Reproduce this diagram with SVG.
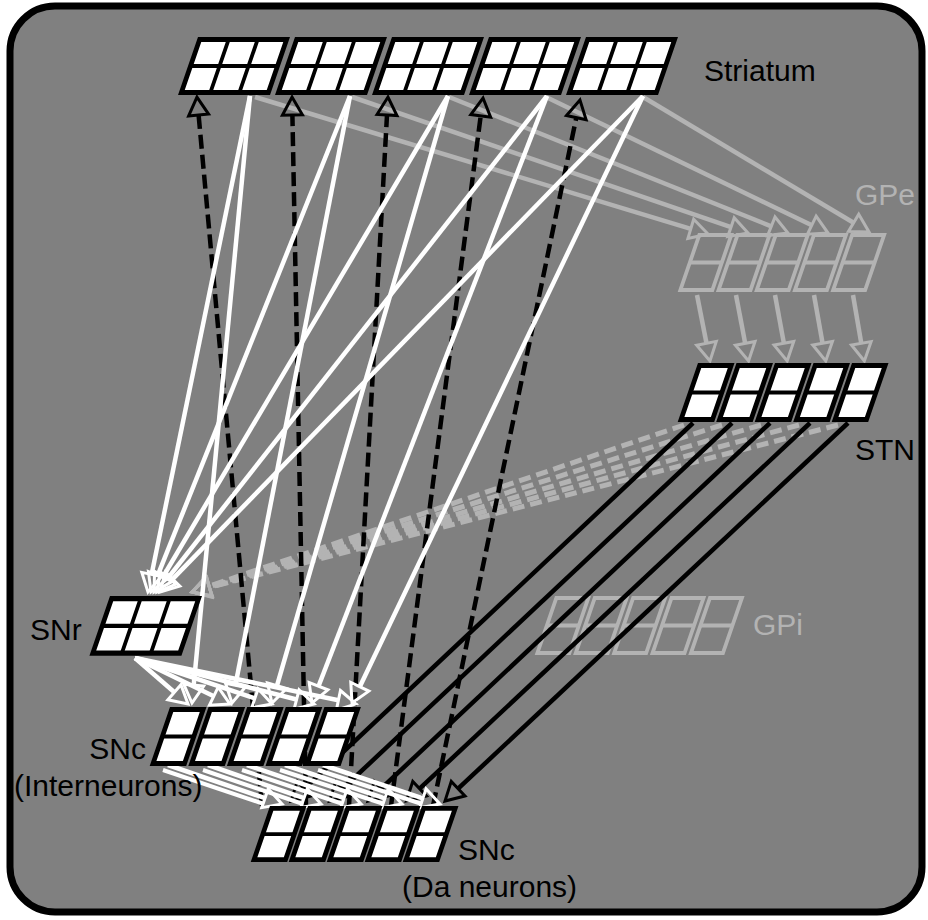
<svg xmlns="http://www.w3.org/2000/svg" xmlns:xlink="http://www.w3.org/1999/xlink" width="928" height="920" viewBox="0 0 928 920">
  <style>
    .lbl { font-family: "Liberation Sans", Arial, sans-serif; font-size: 30px; fill: #000; }
    .lblg { font-family: "Liberation Sans", Arial, sans-serif; font-size: 30px; fill: #b3b3b3; }
    .w { stroke: #fff; stroke-width: 4.5; fill: none; marker-end: url(#hw); }
    .w2 { stroke: #fff; stroke-width: 4; fill: none; }
    .k { stroke: #000; stroke-width: 4.5; fill: none; marker-end: url(#hk); }
    .kd { stroke: #000; stroke-width: 4.5; fill: none; stroke-dasharray: 14 6; marker-end: url(#hk); }
    .g { stroke: #b3b3b3; stroke-width: 4.5; fill: none; marker-end: url(#hg); }
    .gd { stroke: #b3b3b3; stroke-width: 5; fill: none; stroke-dasharray: 12 6; marker-end: url(#hg); }
    .cellw { fill: #fff; stroke: #000; stroke-width: 5; }
    .grid { stroke: #000; stroke-width: 4; fill: none; }
    .cellg { fill: none; stroke: #b3b3b3; stroke-width: 4; }
  </style>
  <defs>
    <!-- open triangular arrowheads; the line ends at the base, the tip lies 18px ahead -->
    <marker id="hw" markerUnits="userSpaceOnUse" viewBox="-4 -15 30 30" markerWidth="30" markerHeight="30" refX="0" refY="0" orient="auto" overflow="visible">
      <path d="M0,-10L18,0L0,10Z" fill="none" stroke="#fff" stroke-width="3"/>
    </marker>
    <marker id="hk" markerUnits="userSpaceOnUse" viewBox="-4 -15 30 30" markerWidth="30" markerHeight="30" refX="0" refY="0" orient="auto" overflow="visible">
      <path d="M0,-10L18,0L0,10Z" fill="none" stroke="#000" stroke-width="3"/>
    </marker>
    <marker id="hg" markerUnits="userSpaceOnUse" viewBox="-4 -15 30 30" markerWidth="30" markerHeight="30" refX="0" refY="0" orient="auto" overflow="visible">
      <path d="M0,-10L18,0L0,10Z" fill="none" stroke="#b3b3b3" stroke-width="3"/>
    </marker>
    <!-- unit-group blocks, drawn upright from their outer top-left corner and sheared into place -->
    <g id="b32">
      <rect x="2.5" y="2.5" width="87" height="53" class="cellw"/>
      <path class="grid" d="M31.5,2.5V55.5M60.5,2.5V55.5M2.5,29H89.5"/>
    </g>
    <g id="b12">
      <rect x="2.5" y="2.5" width="31.5" height="54" class="cellw"/>
      <path class="grid" d="M2.5,29.5H34"/>
    </g>
    <g id="g12">
      <rect x="2" y="2" width="32" height="55" class="cellg"/>
      <path class="cellg" d="M2,29.5H34"/>
    </g>
  </defs>

  <rect x="10" y="6" width="912" height="906" rx="45" fill="#808080" stroke="#000" stroke-width="7"/>

  <g id="GPi">
    <use href="#g12" transform="translate(555,596) skewX(-19)"/>
    <use href="#g12" transform="translate(593.4,596) skewX(-19)"/>
    <use href="#g12" transform="translate(631.8,596) skewX(-19)"/>
    <use href="#g12" transform="translate(670.2,596) skewX(-19)"/>
    <use href="#g12" transform="translate(708.6,596) skewX(-19)"/>
    <text class="lblg" x="753" y="635">GPi</text>
  </g>

  <g id="connectors">
    <!-- Striatum -> GPe -->
    <path class="g" d="M255,97L690.8,228.8"/>
    <path class="g" d="M352,97L731,227.2"/>
    <path class="g" d="M449,97L771.3,226.3"/>
    <path class="g" d="M546,97L811.8,225.2"/>
    <path class="g" d="M643,97L853.6,222.8"/>
    <!-- GPe -> STN -->
    <path class="g" d="M697,295L706.5,343.3"/>
    <path class="g" d="M736,295L745.2,343.3"/>
    <path class="g" d="M775,295L783.9,343.3"/>
    <path class="g" d="M814,295L822.6,343.3"/>
    <path class="g" d="M853,295L861.3,343.3"/>
    <!-- STN -> SNr -->
    <path class="gd" d="M684,425L209,586.2"/>
    <path class="gd" d="M722,425L209.2,586.6"/>
    <path class="gd" d="M761,425L209.3,586.9"/>
    <path class="gd" d="M799,425L209.4,587.2"/>
    <path class="gd" d="M838,425L209.4,587.5"/>
    <!-- STN -> SNc (Da neurons) -->
    <path class="k" d="M693,423L304.1,788.7"/>
    <path class="k" d="M732,423L342.6,788.7"/>
    <path class="k" d="M770,423L381.1,788.7"/>
    <path class="k" d="M810,423L419.6,788.7"/>
    <path class="k" d="M848,423L458.1,788.7"/>
    <!-- SNc (Da neurons) -> Striatum -->
    <path class="kd" d="M262,806L198.6,115"/>
    <path class="kd" d="M306,806L292.4,115"/>
    <path class="kd" d="M349,806L387,115"/>
    <path class="kd" d="M391,806L480.7,115.9"/>
    <path class="kd" d="M433,806L576.3,117.6"/>
    <!-- Striatum -> SNr -->
    <path class="w" d="M250,96L151.6,574.4"/>
    <path class="w" d="M350,96L157.7,575.3"/>
    <path class="w" d="M448,96L163.2,576.5"/>
    <path class="w" d="M547,96L168.1,577.9"/>
    <path class="w" d="M643,96L172.6,579.1"/>
    <!-- Striatum -> SNc (Interneurons) -->
    <path class="w" d="M250,96L193.7,685.1"/>
    <path class="w" d="M350,96L235.4,685.3"/>
    <path class="w" d="M448,96L277,685.7"/>
    <path class="w" d="M547,96L318.5,686.2"/>
    <path class="w" d="M643,96L359.8,686.8"/>
    <!-- SNr -> SNc (Interneurons) -->
    <path class="w" d="M135,658L174.4,692.2"/>
    <path class="w" d="M135,658L213.8,696.2"/>
    <path class="w" d="M135,658L254.9,698.3"/>
    <path class="w" d="M135,658L296.6,699.5"/>
    <path class="w" d="M135,658L338.4,700.3"/>
    <!-- SNc (Interneurons) -> SNc (Da neurons), paired strands -->
    <path class="w2" d="M163,770L264,804"/>
    <path class="w2" d="M203,770L303,804"/>
    <path class="w2" d="M242,770L343,804"/>
    <path class="w2" d="M280,770L384,804"/>
    <path class="w2" d="M318,770L422,804"/>
    <path class="w" d="M168,765L265,798.2"/>
    <path class="w" d="M208,765L304,798.1"/>
    <path class="w" d="M247,765L344,798.2"/>
    <path class="w" d="M285,765L384.9,798.3"/>
    <path class="w" d="M323,765L422.9,798.3"/>
  </g>

  <g id="Striatum">
    <use href="#b32" transform="translate(198,37) skewX(-19)"/>
    <use href="#b32" transform="translate(295,37) skewX(-19)"/>
    <use href="#b32" transform="translate(392,37) skewX(-19)"/>
    <use href="#b32" transform="translate(489,37) skewX(-19)"/>
    <use href="#b32" transform="translate(586,37) skewX(-19)"/>
    <text class="lbl" x="704" y="81">Striatum</text>
  </g>

  <g id="GPe">
    <use href="#g12" transform="translate(698,233) skewX(-19)"/>
    <use href="#g12" transform="translate(736.2,233) skewX(-19)"/>
    <use href="#g12" transform="translate(774.4,233) skewX(-19)"/>
    <use href="#g12" transform="translate(812.6,233) skewX(-19)"/>
    <use href="#g12" transform="translate(850.8,233) skewX(-19)"/>
    <text class="lblg" x="855" y="205">GPe</text>
  </g>

  <g id="STN">
    <use href="#b12" transform="translate(698,363) skewX(-19)"/>
    <use href="#b12" transform="translate(736.5,363) skewX(-19)"/>
    <use href="#b12" transform="translate(775,363) skewX(-19)"/>
    <use href="#b12" transform="translate(813.5,363) skewX(-19)"/>
    <use href="#b12" transform="translate(852,363) skewX(-19)"/>
    <text class="lbl" x="855" y="460">STN</text>
  </g>

  <g id="SNr">
    <use href="#b32" transform="translate(110,596) skewX(-19) scale(1,1.03)"/>
    <text class="lbl" x="30" y="640">SNr</text>
  </g>

  <g id="SNc-interneurons">
    <use href="#b12" transform="translate(170,707) skewX(-19)"/>
    <use href="#b12" transform="translate(208.6,707) skewX(-19)"/>
    <use href="#b12" transform="translate(247.2,707) skewX(-19)"/>
    <use href="#b12" transform="translate(285.8,707) skewX(-19)"/>
    <use href="#b12" transform="translate(324.4,707) skewX(-19)"/>
    <text class="lbl" x="146" y="759" text-anchor="end">SNc</text>
    <text class="lbl" x="14" y="796">(Interneurons)</text>
  </g>

  <g id="SNc-Da">
    <use href="#b12" transform="translate(270,806) skewX(-19) scale(1,0.95)"/>
    <use href="#b12" transform="translate(308,806) skewX(-19) scale(1,0.95)"/>
    <use href="#b12" transform="translate(346,806) skewX(-19) scale(1,0.95)"/>
    <use href="#b12" transform="translate(384,806) skewX(-19) scale(1,0.95)"/>
    <use href="#b12" transform="translate(422,806) skewX(-19) scale(1,0.95)"/>
    <text class="lbl" x="458" y="860">SNc</text>
    <text class="lbl" x="402" y="897">(Da neurons)</text>
  </g>
</svg>
